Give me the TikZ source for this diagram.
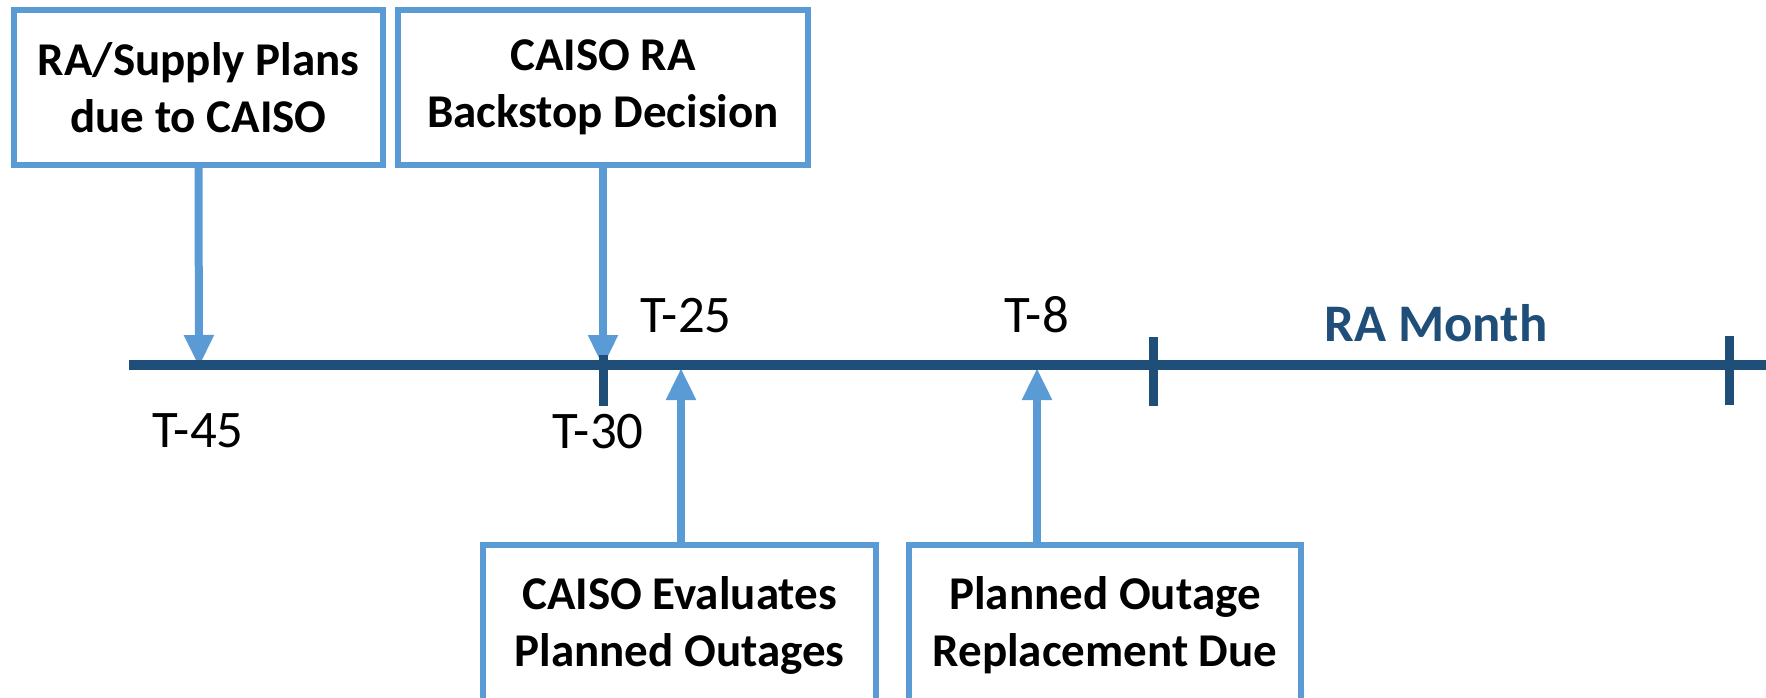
\documentclass[tikz,border=0pt]{standalone}
\usepackage{fontspec}
\setmainfont{Carlito}
\usetikzlibrary{arrows.meta}
\definecolor{boxblue}{HTML}{5B9BD5}
\definecolor{lineblue}{HTML}{1F4E79}
\begin{document}
\begin{tikzpicture}[x=1pt,y=-1pt,
  evbox/.style={draw=boxblue, line width=6pt, fill=white, align=center,
    font=\fontsize{47}{57}\selectfont\bfseries, inner sep=0pt, minimum height=155pt},
  tlabel/.style={font=\fontsize{52.8}{60}\selectfont, anchor=base, inner sep=0pt},
  conn/.style={draw=boxblue, line width=8pt, -{Triangle[length=32pt,width=28pt]}},
  tickmark/.style={draw=lineblue, line width=9pt}
]
\useasboundingbox (0,0) rectangle (1766,698);
\clip (0,0) rectangle (1766,698);
% boxes
\node[evbox, minimum width=369pt] (b1) at (198.5,87.5) {RA/Supply Plans\\due to CAISO};
\node[evbox, minimum width=410pt] (b2) at (603,87.5) {CAISO RA\\Backstop Decision};
\node[evbox, minimum width=393pt, minimum height=160pt] (b3) at (679.5,625) {CAISO Evaluates\\Planned Outages};
\node[evbox, minimum width=392pt, minimum height=160pt] (b4) at (1105,625) {Planned Outage\\Replacement Due};
% timeline points
\coordinate (tlS) at (129,365);
\coordinate (tlE) at (1766,365);
\coordinate (p45) at (199,365);
\coordinate (p30) at (603,365);
\coordinate (p25) at (681,365);
\coordinate (p8) at (1037,365);
\coordinate (m0) at (1153,365);
\coordinate (m1) at (1729,365);
% arrows
\draw[conn] (b1.south) -- ([yshift=-2pt]p45);
\draw[conn] (b2.south) -- ([yshift=-2pt]p30);
\draw[conn] (b3.north -| p25) -- ([yshift=-3pt]p25);
\draw[conn] (b4.north -| p8) -- ([yshift=-3pt]p8);
% timeline
\draw[lineblue, line width=10pt] (tlS) -- (tlE);
\draw[tickmark] ([yshift=10pt]p30) -- ([yshift=-41pt]p30);
\draw[tickmark] ([yshift=28pt]m0) -- ([yshift=-41pt]m0);
\draw[tickmark] ([yshift=29pt]m1) -- ([yshift=-40pt]m1);
% labels
\node[tlabel] (l45) at (198,447) {T-45};
\node[tlabel] (l30) at (598,448) {T-30};
\node[tlabel] (l25) at (686,332) {T-25};
\node[tlabel] (l8) at (1036.5,332) {T-8};
\node[tlabel, font=\fontsize{52.8}{60}\selectfont\bfseries, text=lineblue] (ram) at (1436,341) {RA Month};
\end{tikzpicture}
\end{document}
